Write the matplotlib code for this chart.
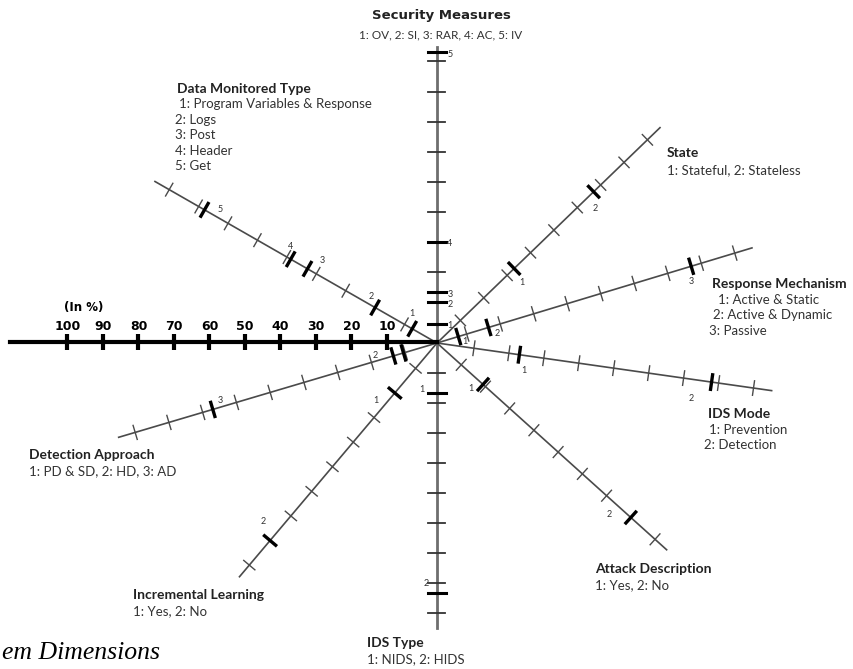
import matplotlib.pyplot as plt
import numpy as np

# ---- data ----
# percentage position of each category mark on its spoke
security_pct = [2.8, 10, 13.3, 30, 93]
state_pct = [33, 67]
response_pct = [7.5, 16.5, 77]
ids_mode_pct = [23, 78]
attack_pct = [19, 80]
ids_type_pct = [16.6, 83.3]
incremental_pct = [20, 80]
detection_pct = [10.5, 13.5, 67]
data_monitored_pct = [7.4, 20, 43, 48.7, 78]

# mark labels (category numbers)
security_marks = ['1', '2', '3', '4', '5']
state_marks = ['1', '2']
response_marks = ['1', '2', '3']
ids_mode_marks = ['1', '2']
attack_marks = ['1', '2']
ids_type_marks = ['1', '2']
incremental_marks = ['1', '2']
detection_marks = ['', '2', '3']
data_monitored_marks = ['1', '2', '3', '4', '5']

# percent scale on the left
scale_pct = [100, 90, 80, 70, 60, 50, 40, 30, 20, 10]

# ---- layout (pixel space) ----
CX, CY = 437, 343

# name: (angle deg, length px, px per 10 %, offset px, pct, marks, label offsets)
spokes = {
    'state': (44, 310, 32.5, 0, state_pct, state_marks, [(8, 14), (2, 17)]),
    'response': (16.8, 329, 35.0, -4, response_pct, response_marks,
                 [(7, 5), (9, 6), (0, 15)]),
    'ids_mode': (-8.1, 338, 35.3, 2, ids_mode_pct, ids_mode_marks,
                 [(5, 16), (-20, 16)]),
    'attack': (-42, 309, 32.6, 0, attack_pct, attack_marks,
               [(-12, 4), (-22, -3)]),
    'incremental': (-130.2, 306, 32.2, 1, incremental_pct, incremental_marks,
                    [(-19, 8), (-7, -19)]),
    'detection': (196.5, 332, 35.2, -2, detection_pct, detection_marks,
                  [(0, -10), (-18, 0), (7, -9)]),
    'data_monitored': (150.2, 325, 33.9, 3.5, data_monitored_pct,
                       data_monitored_marks,
                       [(0, -15), (-4, -11), (15, -8), (0, -13), (16, 0)]),
}

fig = plt.figure(figsize=(8.54, 6.69), dpi=100)
ax = fig.add_axes([0, 0, 1, 1])
ax.set_xlim(0, 854)
ax.set_ylim(669, 0)
ax.axis('off')

LEG_FONT = 'Lato'
mark_kw = dict(fontsize=6.5, color='#333333', ha='center', va='center', family=LEG_FONT)


def pt(theta, r):
    t = np.radians(theta)
    return CX + r * np.cos(t), CY - r * np.sin(t)


def cross(theta, r, half, **kw):
    t = np.radians(theta)
    x, y = pt(theta, r)
    px, py = np.sin(t), np.cos(t)
    ax.plot([x - half * px, x + half * px], [y - half * py, y + half * py],
            solid_capstyle='butt', **kw)


# diagonal spokes
for name, (ang, length, step, off, pct, marks, loffs) in spokes.items():
    x1, y1 = pt(ang, length)
    ax.plot([CX, x1], [CY, y1], color='#4a4a4a', lw=1.2, zorder=2)
    for k in range(1, 10):
        r = off + k * step
        if r < length:
            cross(ang, r, 8, color='#4a4a4a', lw=1.0, zorder=2)
    for p, m, (dx, dy) in zip(pct, marks, loffs):
        r = off + p / 10 * step
        cross(ang, r, 9, color='black', lw=2.4, zorder=3)
        x, y = pt(ang, r)
        if m:
            ax.text(x + dx, y + dy, m, **mark_kw)

# vertical axis: security measures (up) and IDS type (down)
ax.plot([CX, CX], [CY - 296, CY + 285], color='#6e6e6e', lw=2.0, zorder=1)
for k in range(1, 10):
    r = 10.7 + k * 30.1
    ax.plot([CX - 8.5, CX + 8.5], [CY - r, CY - r], color='#333333', lw=1.3)
for p, m in zip(security_pct, security_marks):
    y = CY - (10.7 + p / 10 * 30.1)
    ax.plot([CX - 9, CX + 9], [y, y], color='black', lw=2.2)
    ax.text(CX + 13, y + 2, m, **mark_kw)
for k in range(1, 10):
    y = CY + k * 30
    ax.plot([CX - 8.5, CX + 8.5], [y, y], color='#333333', lw=1.3)
for p, m, (dx, dy) in zip(ids_type_pct, ids_type_marks, [(-15, -3), (-11, -9)]):
    y = CY + p / 10 * 30
    ax.plot([CX - 9, CX + 9], [y, y], color='black', lw=2.2)
    ax.text(CX + dx, y + dy, m, **mark_kw)

# percent scale to the left
ax.plot([10, CX], [CY - 1, CY - 1], color='black', lw=3.0, zorder=4)
for v in scale_pct:
    x = CX - 14.5 - v / 10 * 35.5
    ax.plot([x, x], [CY - 9, CY + 7], color='black', lw=3.0, zorder=4,
            solid_capstyle='butt')
    ax.text(x, 326, str(v), fontsize=9, fontweight='bold', ha='center',
            va='center', family='DejaVu Sans')
ax.text(84, 307, '(In %)', fontsize=8.5, fontweight='bold', ha='center',
        va='center', family='DejaVu Sans')

# titles and legends
title_kw = dict(fontsize=10, fontweight='bold', family=LEG_FONT, color='#222222',
                va='center')
leg_kw = dict(fontsize=9.5, family=LEG_FONT, color='#333333', va='center')

ax.text(441, 15, 'Security Measures', fontsize=9.5, fontweight='bold',
        family='DejaVu Sans', ha='center', va='center', color='#222222')
ax.text(441, 35, '1: OV, 2: SI, 3: RAR, 4: AC, 5: IV', ha='center',
        fontsize=8.5, family=LEG_FONT, color='#333333', va='center')

ax.text(177, 89, 'Data Monitored Type', **title_kw)
ax.text(179, 104, '1: Program Variables & Response', **leg_kw)
ax.text(175, 120, '2: Logs', **leg_kw)
ax.text(175, 135, '3: Post', **leg_kw)
ax.text(175, 151, '4: Header', **leg_kw)
ax.text(175, 166, '5: Get', **leg_kw)

ax.text(667, 153, 'State', **title_kw)
ax.text(667, 170, '1: Stateful, 2: Stateless', **leg_kw)

ax.text(712, 284, 'Response Mechanism', **title_kw)
ax.text(718, 300, '1: Active & Static', **leg_kw)
ax.text(713, 315, '2: Active & Dynamic', **leg_kw)
ax.text(709, 331, '3: Passive', **leg_kw)

ax.text(708, 414, 'IDS Mode', **title_kw)
ax.text(709, 430, '1: Prevention', **leg_kw)
ax.text(704, 445, '2: Detection', **leg_kw)

ax.text(595, 569, 'Attack Description', **title_kw)
ax.text(595, 585, '1: Yes, 2: No', **leg_kw)

ax.text(367, 643, 'IDS Type', **title_kw)
ax.text(367, 659, '1: NIDS, 2: HIDS', **leg_kw)

ax.text(133, 595, 'Incremental Learning', **title_kw)
ax.text(133, 611, '1: Yes, 2: No', **leg_kw)

ax.text(29, 455, 'Detection Approach', **title_kw)
ax.text(29, 471, '1: PD & SD, 2: HD, 3: AD', **leg_kw)

ax.text(2, 659, 'em Dimensions', fontsize=18.5, style='italic',
        family='Liberation Serif', ha='left', va='baseline', color='black')

fig.savefig('out.png', dpi=100)
